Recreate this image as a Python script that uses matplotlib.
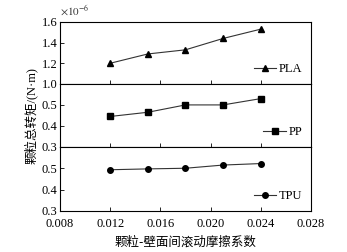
import matplotlib
matplotlib.use("Agg")
import matplotlib.pyplot as plt

plt.rcParams['font.family'] = ['Liberation Serif', 'Noto Sans CJK SC']
plt.rcParams['mathtext.fontset'] = 'stix'

mu = [0.012, 0.015, 0.018, 0.021, 0.024]
pla = [1.20, 1.29, 1.33, 1.44, 1.53]
pp = [0.445, 0.465, 0.500, 0.500, 0.530]
tpu = [0.493, 0.497, 0.500, 0.515, 0.522]

names = ['PLA', 'PP', 'TPU']
markers = ['^', 's', 'o']
ylims = [(1.0, 1.6), (0.3, 0.6), (0.3, 0.6)]
yticks = [[1.0, 1.2, 1.4, 1.6], [0.3, 0.4, 0.5], [0.3, 0.4, 0.5]]
xticks = [0.008, 0.012, 0.016, 0.020, 0.024, 0.028]

fig = plt.figure(figsize=(3.47, 2.52), dpi=100)
left, right = 0.173, 0.896
edges = [0.913, 0.667, 0.417, 0.163]

for i, (vals, name, mk) in enumerate(zip([pla, pp, tpu], names, markers)):
    ax = fig.add_axes([left, edges[i + 1], right - left, edges[i] - edges[i + 1]])
    ax.plot(mu, vals, color='#333333', lw=0.8, marker=mk, ms=4,
            markerfacecolor='black', markeredgecolor='black', label=name)
    ax.set_xlim(0.008, 0.028)
    ax.set_ylim(*ylims[i])
    ax.set_yticks(yticks[i])
    ax.set_yticklabels(['%.1f' % v for v in yticks[i]], fontsize=9)
    ax.set_xticks(xticks)
    ax.tick_params(direction='in', length=3, width=0.6)
    ax.tick_params(axis='y', pad=2)
    ax.tick_params(axis='x', pad=5)
    for s in ax.spines.values():
        s.set_linewidth(0.8)
    if i < 2:
        ax.tick_params(axis='x', labelbottom=False)
    else:
        ax.set_xticklabels(['%.3f' % v for v in xticks], fontsize=9)
        ax.set_xlabel('颗粒-壁面间滚动摩擦系数', fontsize=9,
                      family=['Noto Sans CJK SC', 'DejaVu Sans'], labelpad=4)
    ax.legend(loc='lower right', frameon=False, fontsize=9, handlelength=1.8,
              handletextpad=0.2, borderaxespad=0.3)

fig.text(0.173, 0.93, r'$\times 10^{-6}$', fontsize=8, ha='left', va='bottom', color='#333333')
fig.text(0.088, 0.54, '颗粒总转矩/(N·m)', rotation=90, fontsize=9, ha='center', va='center',
         family=['Liberation Serif', 'Noto Sans CJK SC'])

fig.savefig('out.png', dpi=100)
